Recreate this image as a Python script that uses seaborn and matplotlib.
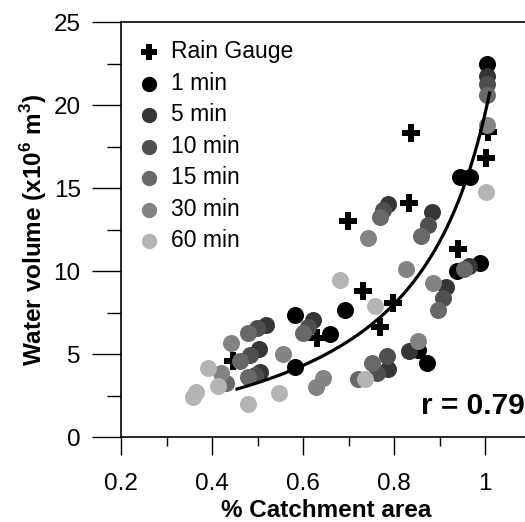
import numpy as np
import pandas as pd
import matplotlib
matplotlib.use("Agg")
import matplotlib.pyplot as plt
import seaborn as sns
from matplotlib.ticker import MultipleLocator, FixedLocator

# data
rain_x = [0.446, 0.631, 0.699, 0.732, 0.769, 0.798, 0.837, 0.833, 0.941, 1.002, 1.007]
rain_y = [4.58, 5.96, 13.01, 8.80, 6.63, 8.07, 18.31, 14.10, 11.33, 16.81, 18.37]

min1_x = [0.582, 0.582, 0.659, 0.692, 0.853, 0.873, 0.938, 0.989, 0.945, 0.967, 1.004]
min1_y = [7.35, 4.22, 6.20, 7.65, 5.24, 4.46, 10.0, 10.48, 15.66, 15.66, 22.47]

min5_x = [0.519, 0.503, 0.505, 0.622, 0.787, 0.833, 0.787, 0.884, 0.914, 0.965, 1.004]
min5_y = [6.75, 5.30, 3.92, 7.05, 4.10, 5.18, 14.04, 13.55, 9.04, 10.30, 21.75]

min10_x = [0.499, 0.484, 0.495, 0.611, 0.763, 0.785, 0.776, 0.875, 0.908, 1.004]
min10_y = [6.57, 4.94, 3.73, 6.63, 3.86, 4.88, 13.67, 12.77, 8.37, 21.27]

min15_x = [0.479, 0.462, 0.479, 0.431, 0.600, 0.721, 0.752, 0.769, 0.859, 0.897, 0.954, 1.004]
min15_y = [6.27, 4.58, 3.61, 3.25, 6.27, 3.49, 4.46, 13.25, 12.11, 7.65, 10.12, 20.60]

min30_x = [0.442, 0.556, 0.420, 0.644, 0.629, 0.743, 0.826, 0.886, 0.853, 1.004]
min30_y = [5.66, 5.00, 3.86, 3.55, 3.01, 11.99, 10.12, 9.28, 5.78, 18.80]

min60_x = [0.391, 0.365, 0.358, 0.413, 0.479, 0.547, 0.681, 0.758, 0.736, 1.002]
min60_y = [4.16, 2.71, 2.41, 3.07, 1.99, 2.65, 9.46, 7.89, 3.49, 14.76]

labels = ["1 min", "5 min", "10 min", "15 min", "30 min", "60 min"]
colors = ["#000000", "#363636", "#4f4f4f", "#686868", "#838383", "#b4b4b4"]

# fitted curve y = a + b/(c - x)
fit_a, fit_b, fit_c = -2.892, 4.25, 1.19
fit_x0, fit_x1 = 0.455, 1.01

plt.rcParams['font.family'] = ['Liberation Sans', 'DejaVu Sans']

fig = plt.figure(figsize=(5.25, 5.22), dpi=100)
ax = fig.add_axes([0.2305, 0.1628, 0.78, 0.795])

# rain gauge first so the circles sit on top
sns.scatterplot(x=rain_x, y=rain_y, marker='P', s=150, color='black',
                linewidth=0, label='Rain Gauge', ax=ax)

series = [(min1_x, min1_y), (min5_x, min5_y), (min10_x, min10_y),
          (min15_x, min15_y), (min30_x, min30_y), (min60_x, min60_y)]
for (sx, sy), lab, col in zip(series, labels, colors):
    sns.scatterplot(x=sx, y=sy, s=150, color=col, linewidth=0, label=lab, ax=ax)

# fit line
xf = np.linspace(fit_x0, fit_x1, 200)
yf = fit_a + fit_b / (fit_c - xf)
sns.lineplot(x=xf, y=yf, color='black', linewidth=2.3, ax=ax, legend=False)

ax.set_xlim(0.2, 1.1)
ax.set_ylim(0, 25)
ax.xaxis.set_major_locator(FixedLocator([0.2, 0.4, 0.6, 0.8, 1.0]))
ax.set_xticklabels(['0.2', '0.4', '0.6', '0.8', '1'])
ax.xaxis.set_minor_locator(MultipleLocator(0.1))
ax.yaxis.set_major_locator(MultipleLocator(5))
ax.yaxis.set_minor_locator(MultipleLocator(2.5))

ax.tick_params(axis='x', which='major', direction='out', length=13, width=1, pad=13, labelsize=17.5)
ax.tick_params(axis='x', which='minor', direction='out', length=6.5, width=1)
ax.tick_params(axis='y', which='major', direction='out', length=21, width=1, pad=8, labelsize=17.5)
ax.tick_params(axis='y', which='minor', direction='out', length=10, width=1)
for sp in ax.spines.values():
    sp.set_linewidth(1.2)

ax.set_xlabel('% Catchment area', fontsize=17.5, fontweight='bold', labelpad=3)
ax.set_ylabel(r'Water volume (x10$^\mathregular{6}$ m$^\mathregular{3}$)',
              fontsize=17.5, fontweight='bold', labelpad=3)

ax.legend(loc='upper left', bbox_to_anchor=(0.0, 0.995), frameon=False, fontsize=16.5,
          handlelength=1.0, handletextpad=0.5, labelspacing=0.37, borderaxespad=0.3,
          markerscale=0.9)

fig.text(0.999, 0.222, 'r = 0.79', ha='right', va='center', fontsize=21.5, fontweight='bold')

plt.savefig('out.png', dpi=100)
